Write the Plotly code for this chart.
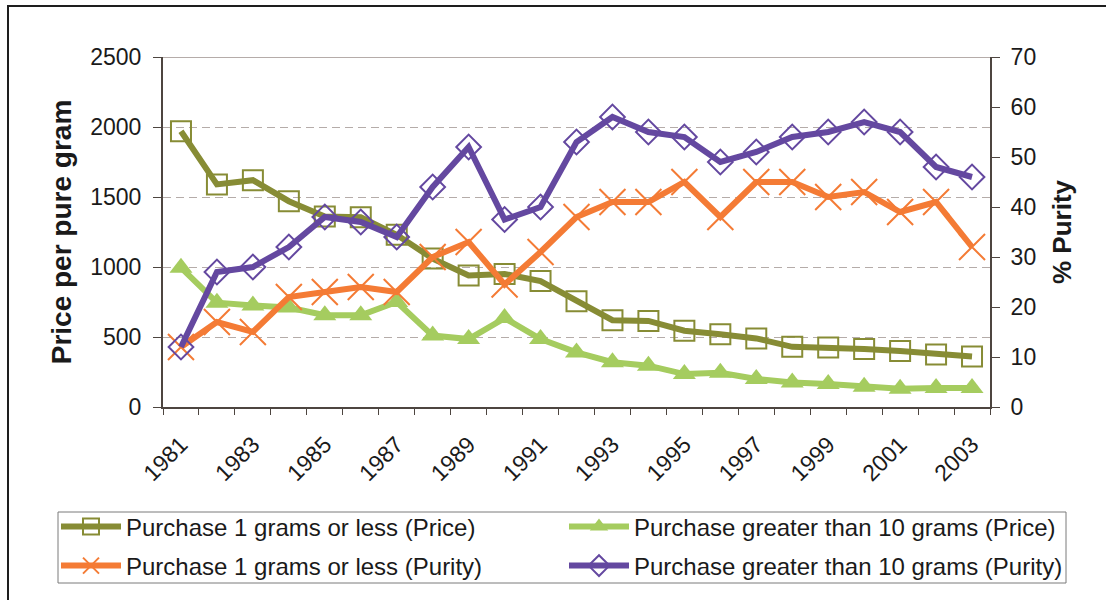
import plotly.graph_objects as go

years = [1981, 1982, 1983, 1984, 1985, 1986, 1987, 1988, 1989, 1990, 1991, 1992,
         1993, 1994, 1995, 1996, 1997, 1998, 1999, 2000, 2001, 2002, 2003]
year_labels = [1981, 1983, 1985, 1987, 1989, 1991, 1993, 1995, 1997, 1999, 2001, 2003]

price_small = [1970, 1590, 1620, 1470, 1360, 1355, 1230, 1060, 940, 950, 900, 755,
               620, 615, 545, 520, 490, 430, 425, 415, 400, 375, 360]
price_large = [995, 745, 725, 710, 655, 655, 750, 510, 485, 635, 485, 390,
               320, 295, 235, 245, 200, 175, 165, 145, 130, 135, 135]
purity_small = [12, 17, 15, 22, 23, 24, 23, 30, 33, 24.5, 31, 38,
                41, 41, 45, 38, 45, 45, 42, 43, 39, 41, 32]
purity_large = [12, 27, 28, 32, 38, 37, 34, 44, 52, 37.5, 40, 53,
                58, 55, 54, 49, 51, 54, 55, 57, 55, 48, 46]

left_ticks = [0, 500, 1000, 1500, 2000, 2500]
right_ticks = [0, 10, 20, 30, 40, 50, 60, 70]

names = ["Purchase 1 grams or less (Price)", "Purchase greater than 10 grams (Price)",
         "Purchase 1 grams or less (Purity)", "Purchase greater than 10 grams (Purity)"]

OLIVE = "#878C35"
LGREEN = "#A5CC5F"
ORANGE = "#F47B35"
PURPLE = "#6448A0"
FONT = "Liberation Sans, Arial, sans-serif"
TXT = "#1a1a1a"

W, H = 1106, 600
L, R, T, B = 163, 990, 57, 407
pw, ph = R - L, B - T


def px_x(x):
    return (x - L) / pw


def px_y(y):
    return (B - y) / ph


fig = go.Figure()
fig.add_trace(go.Scatter(
    x=years, y=price_small, name=names[0], mode="lines+markers", legend="legend",
    line=dict(color=OLIVE, width=6),
    marker=dict(symbol="square-open", size=20, color=OLIVE, line=dict(width=2, color=OLIVE))))
fig.add_trace(go.Scatter(
    x=years, y=price_large, name=names[1], mode="lines+markers", legend="legend2",
    line=dict(color=LGREEN, width=6),
    marker=dict(symbol="triangle-up", size=20, color=LGREEN)))
fig.add_trace(go.Scatter(
    x=years, y=purity_small, name=names[2], mode="lines+markers", yaxis="y2", legend="legend3",
    line=dict(color=ORANGE, width=6),
    marker=dict(symbol="x-thin-open", size=26, color=ORANGE, line=dict(width=2, color=ORANGE))))
fig.add_trace(go.Scatter(
    x=years, y=purity_large, name=names[3], mode="lines+markers", yaxis="y2", legend="legend4",
    line=dict(color=PURPLE, width=6),
    marker=dict(symbol="diamond-open", size=19, color=PURPLE, line=dict(width=2, color=PURPLE))))

AXC = "#4d4540"
GRID = "#b5aca9"
tickfont = dict(family=FONT, size=23, color=TXT)


def leg(xp, yp):
    return dict(x=px_x(xp), xanchor="left", y=px_y(yp), yanchor="middle",
                itemwidth=60, bgcolor="rgba(0,0,0,0)", borderwidth=0,
                font=dict(family=FONT, size=24, color=TXT))


fig.update_layout(
    width=W, height=H,
    margin=dict(l=L, r=W - R, t=T, b=H - B, autoexpand=False),
    paper_bgcolor="white", plot_bgcolor="white",
    font=dict(family=FONT, color=TXT),
    xaxis=dict(
        range=[1980.5, 2003.5], tickmode="array", tickvals=year_labels,
        ticktext=[str(v) for v in year_labels], tickangle=-45, ticks="", ticklen=0,
        ticklabelstandoff=13,
        tickfont=tickfont, showgrid=False, zeroline=False,
        showline=True, linecolor=AXC, linewidth=2,
        minor=dict(tickmode="linear", tick0=1980.5, dtick=1, ticks="outside",
                   ticklen=6, tickcolor=AXC, tickwidth=1, showgrid=False),
    ),
    yaxis=dict(
        range=[0, 2500], tickmode="array", tickvals=left_ticks, tickfont=tickfont,
        ticks="outside", ticklen=8, tickcolor=AXC, ticklabelstandoff=7,
        showline=True, linecolor=AXC, linewidth=2, zeroline=False,
        showgrid=True, gridcolor=GRID, gridwidth=1, griddash="8px,5px",
        title=dict(text="<b>Price per pure gram</b>", standoff=10,
                   font=dict(family=FONT, size=28, color=TXT)),
    ),
    yaxis2=dict(
        range=[0, 70], tickmode="array", tickvals=right_ticks, tickfont=tickfont,
        overlaying="y", side="right", anchor="x",
        ticks="outside", ticklen=8, tickcolor=AXC, ticklabelstandoff=6,
        showline=True, linecolor=AXC, linewidth=2, zeroline=False, showgrid=False,
        title=dict(text="<b>% Purity</b>", standoff=18,
                   font=dict(family=FONT, size=26, color=TXT)),
    ),
    legend=leg(56, 527),
    legend2=leg(564, 527),
    legend3=leg(56, 566),
    legend4=leg(564, 566),
    showlegend=True,
    shapes=[
        dict(type="line", xref="paper", yref="y", x0=0, x1=1, y0=2500, y1=2500,
             line=dict(color=GRID, width=2), layer="below"),
        dict(type="rect", xref="paper", yref="paper",
             x0=px_x(58), x1=px_x(1066), y0=px_y(583), y1=px_y(512),
             line=dict(color="#7a7a7a", width=1)),
        dict(type="rect", xref="paper", yref="paper",
             x0=px_x(8), x1=px_x(1120), y0=px_y(620), y1=px_y(6),
             line=dict(color="#1e1e1e", width=2)),
    ],
)

fig.write_html("out.html", config={"displayModeBar": False},
               post_script="document.body.style.margin='0px';document.body.style.overflow='hidden';")
